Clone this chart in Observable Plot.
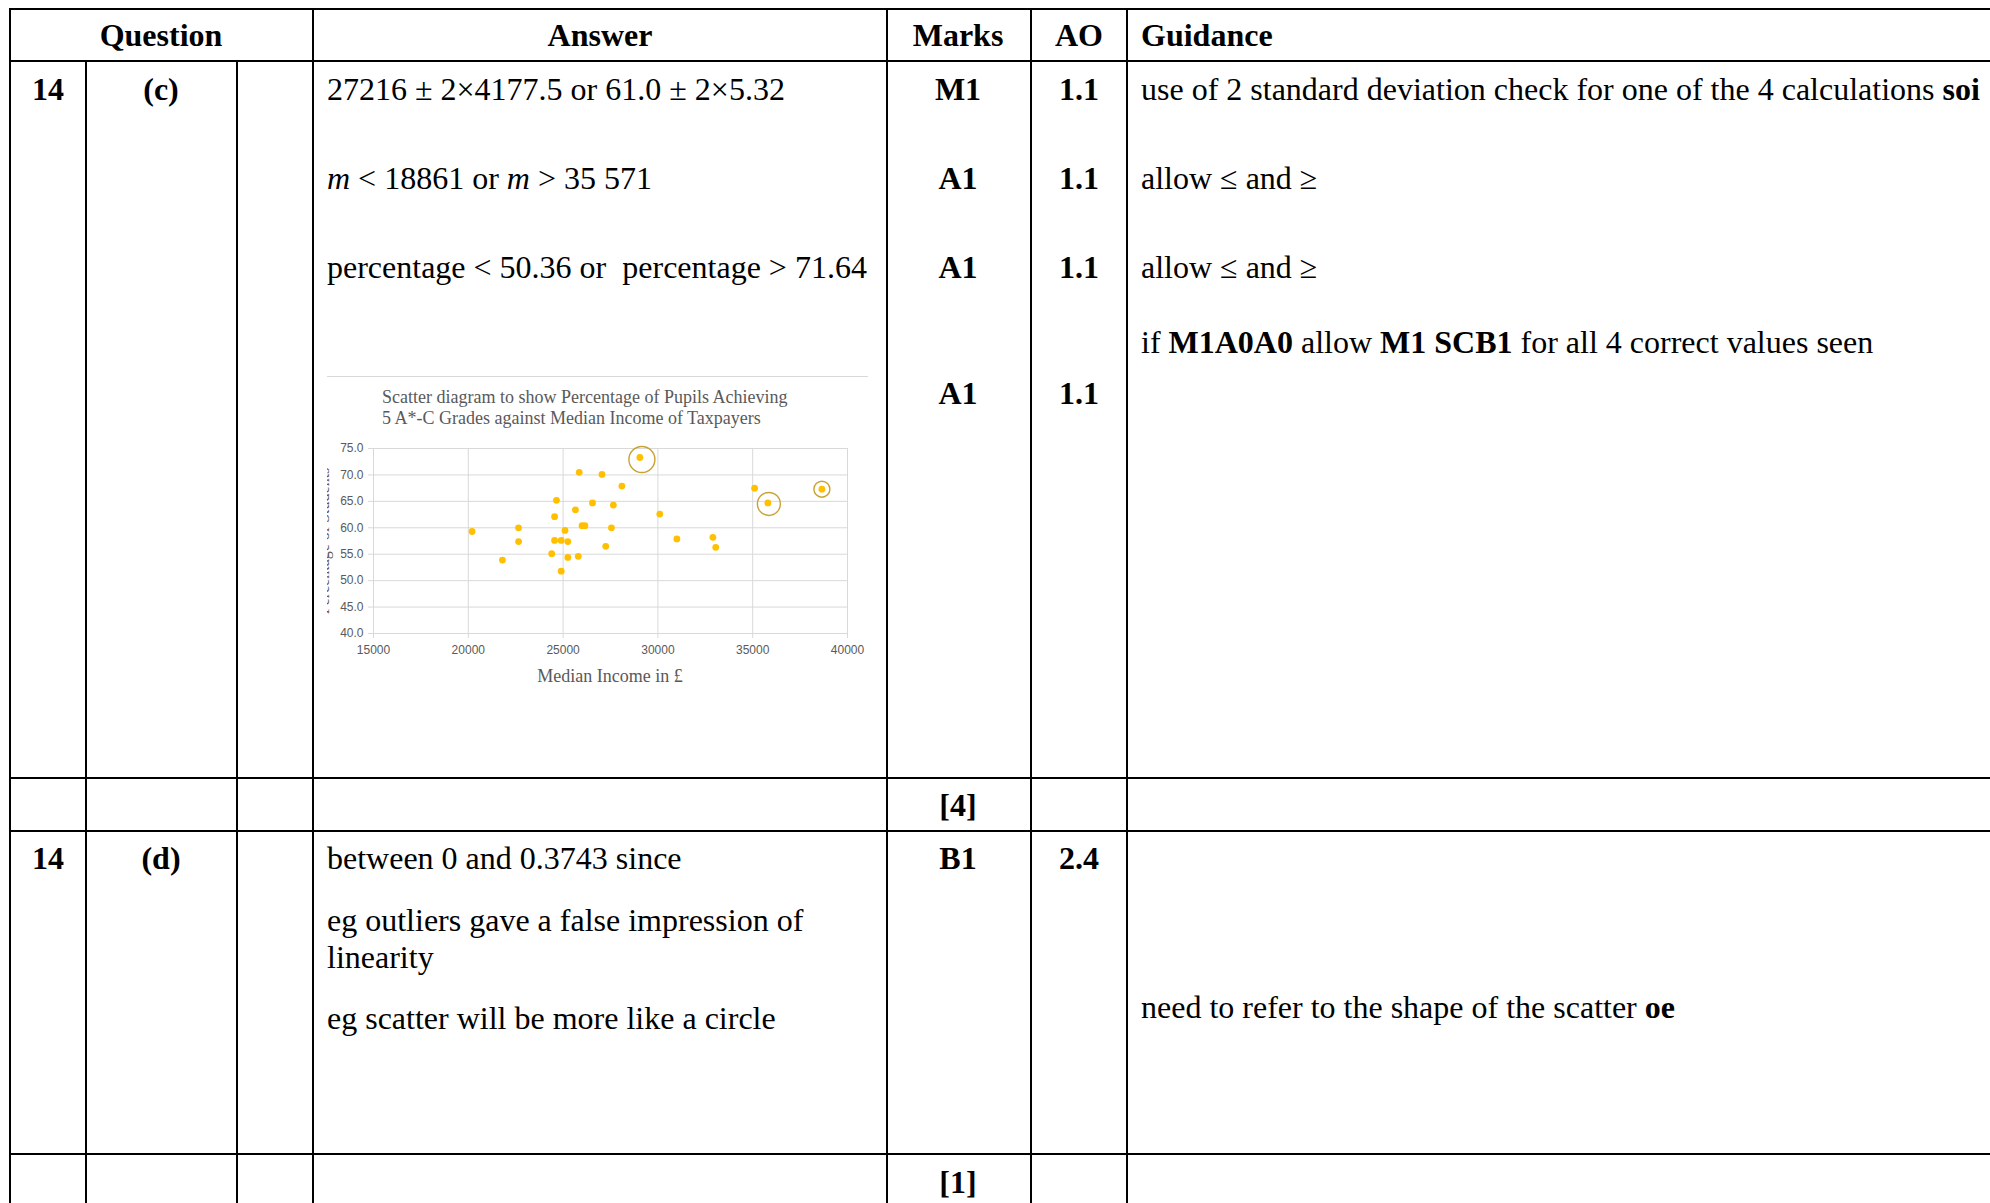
<!DOCTYPE html>
<html>
<head>
<meta charset="utf-8">
<script src="https://cdn.jsdelivr.net/npm/d3@7"></script>
<script src="https://cdn.jsdelivr.net/npm/@observablehq/plot@0.6"></script>
<style>
  html, body { margin: 0; padding: 0; background: #fff; }
  body { width: 1990px; height: 1203px; position: relative; overflow: hidden;
         font-family: "Liberation Serif", "Times New Roman", serif; color: #000; }
  .hl { position: absolute; height: 2px; background: #000; }
  .vl { position: absolute; width: 2px; background: #000; }
  .t { position: absolute; font-size: 32px; line-height: 32px; white-space: nowrap; }
  .c { transform: translateX(-50%); }
  .b { font-weight: bold; }
  #chartwrap { position: absolute; left: 327px; top: 370px; width: 545px; height: 330px; overflow: hidden; }
  .ct { position: absolute; font-family: "Liberation Serif", "Times New Roman", serif; color: #595959; white-space: nowrap; }
</style>
</head>
<body>
<div id="lines"></div>
<div id="texts">
  <div class="t b c" style="left:161px;top:19px">Question</div>
  <div class="t b c" style="left:600px;top:19px">Answer</div>
  <div class="t b c" style="left:958px;top:19px">Marks</div>
  <div class="t b c" style="left:1079px;top:19px">AO</div>
  <div class="t b" style="left:1141px;top:19px">Guidance</div>

  <div class="t b c" style="left:48px;top:73px">14</div>
  <div class="t b c" style="left:161px;top:73px">(c)</div>
  <div class="t" style="left:327px;top:73px">27216 ± 2×4177.5 or 61.0 ± 2×5.32</div>
  <div class="t" style="left:327px;top:162px"><i>m</i> &lt; 18861 or <i>m</i> &gt; 35 571</div>
  <div class="t" style="left:327px;top:251px">percentage &lt; 50.36 or&nbsp; percentage &gt; 71.64</div>
  <div class="t b c" style="left:958px;top:73px">M1</div>
  <div class="t b c" style="left:958px;top:162px">A1</div>
  <div class="t b c" style="left:958px;top:251px">A1</div>
  <div class="t b c" style="left:958px;top:377px">A1</div>
  <div class="t b c" style="left:1079px;top:73px">1.1</div>
  <div class="t b c" style="left:1079px;top:162px">1.1</div>
  <div class="t b c" style="left:1079px;top:251px">1.1</div>
  <div class="t b c" style="left:1079px;top:377px">1.1</div>
  <div class="t" style="left:1141px;top:73px">use of 2 standard deviation check for one of the 4 calculations <b>soi</b></div>
  <div class="t" style="left:1141px;top:162px">allow ≤ and ≥</div>
  <div class="t" style="left:1141px;top:251px">allow ≤ and ≥</div>
  <div class="t" style="left:1141px;top:326px">if <b>M1A0A0</b> allow <b>M1 SCB1</b> for all 4 correct values seen</div>

  <div class="t b c" style="left:958px;top:789px">[4]</div>

  <div class="t b c" style="left:48px;top:842px">14</div>
  <div class="t b c" style="left:161px;top:842px">(d)</div>
  <div class="t" style="left:327px;top:842px">between 0 and 0.3743 since</div>
  <div class="t" style="left:327px;top:904px">eg outliers gave a false impression of</div>
  <div class="t" style="left:327px;top:941px">linearity</div>
  <div class="t" style="left:327px;top:1002px">eg scatter will be more like a circle</div>
  <div class="t b c" style="left:958px;top:842px">B1</div>
  <div class="t b c" style="left:1079px;top:842px">2.4</div>
  <div class="t" style="left:1141px;top:991px">need to refer to the shape of the scatter <b>oe</b></div>

  <div class="t b c" style="left:958px;top:1166px">[1]</div>
</div>

<div id="chartwrap">
  <div style="position:absolute;left:0;top:6px;width:541px;height:1px;background:#d9d9d9"></div>
  <div class="ct" style="left:55px;top:17px;font-size:18px;line-height:21px">Scatter diagram to show Percentage of Pupils Achieving<br>5 A*-C Grades against Median Income of Taxpayers</div>
  <div id="plot" style="position:absolute;left:0;top:60px"></div>
  <div class="ct" style="left:-3px;top:171px;font-size:16px;line-height:16px;transform:translate(-50%,-50%) rotate(-90deg)">Percentage of Students</div>
  <div class="ct" style="left:283px;top:296px;font-size:18px;line-height:20px;transform:translateX(-50%)">Median Income in £</div>
</div>

<script>
// ---- data ----
const incomes = [20200, 21800, 22650, 22650, 24400, 24550, 24550, 24650, 24900, 24900,
                 25100, 25250, 25250, 25650, 25800, 25850, 26000, 26150, 26550, 27050,
                 27250, 27550, 27650, 28100, 29050, 30100, 31000, 32900, 33050, 35100,
                 35800, 38650];
const percentages = [59.3, 53.9, 60.0, 57.4, 55.1, 57.6, 62.1, 65.2, 51.8, 57.6,
                     59.5, 57.4, 54.4, 63.4, 54.6, 70.5, 60.4, 60.4, 64.7, 70.1,
                     56.5, 60.0, 64.3, 67.9, 73.3, 62.6, 57.9, 58.2, 56.3, 67.5,
                     64.7, 67.3];
const circledIncomes = [29050, 35800, 38650];
const circledPercentages = [73.3, 64.7, 67.3];
const xTicks = [15000, 20000, 25000, 30000, 35000, 40000];
const yTicks = [40, 45, 50, 55, 60, 65, 70, 75];

// ---- table lines ----
const lines = document.getElementById("lines");
function hl(y, x1, x2) { const d = document.createElement("div"); d.className = "hl";
  d.style.top = y + "px"; d.style.left = x1 + "px"; d.style.width = (x2 - x1) + "px"; lines.appendChild(d); }
function vl(x, y1, y2) { const d = document.createElement("div"); d.className = "vl";
  d.style.left = x + "px"; d.style.top = y1 + "px"; d.style.height = (y2 - y1) + "px"; lines.appendChild(d); }
[8, 60, 777, 830, 1153].forEach(y => hl(y, 9, 1990));
[9, 312, 886, 1030, 1126].forEach(x => vl(x, 8, 1203));
[85, 236].forEach(x => vl(x, 60, 1203));

// ---- chart ----
const points = incomes.map((x, i) => ({income: x, pct: percentages[i]}));
const circled = circledIncomes.map((x, i) => ({income: x, pct: circledPercentages[i]}));

const chart = Plot.plot({
  width: 541,
  height: 270,
  marginLeft: 46,
  marginRight: 21,
  marginTop: 18,
  marginBottom: 67,
  style: {fontFamily: "'Liberation Sans', Arial, sans-serif", fontSize: "12px", color: "#595959", background: "transparent", overflow: "visible"},
  x: {domain: [15000, 40000], ticks: xTicks, tickFormat: d => String(d), tickSize: 0, tickPadding: 12, label: null},
  y: {domain: [40, 75], ticks: yTicks, tickFormat: d => d.toFixed(1), tickSize: 0, tickPadding: 10, label: null},
  marks: [
    Plot.ruleX(xTicks, {stroke: "#d9d9d9", strokeWidth: 1, insetBottom: -5}),
    Plot.ruleY(yTicks, {stroke: "#d9d9d9", strokeWidth: 1, insetLeft: -5}),
    Plot.dot(points, {x: "income", y: "pct", r: 3.4, fill: "#FFC000", stroke: "none"}),
    Plot.dot(circled.slice(0, 1), {x: "income", y: "pct", r: 13, dx: 2, dy: 2, fill: "none", stroke: "#C8A232", strokeWidth: 1.4}),
    Plot.dot(circled.slice(1, 2), {x: "income", y: "pct", r: 11.5, dx: 1, dy: 1, fill: "none", stroke: "#C8A232", strokeWidth: 1.4}),
    Plot.dot(circled.slice(2, 3), {x: "income", y: "pct", r: 8, fill: "none", stroke: "#C8A232", strokeWidth: 1.4})
  ]
});
document.getElementById("plot").appendChild(chart);
</script>
</body>
</html>
